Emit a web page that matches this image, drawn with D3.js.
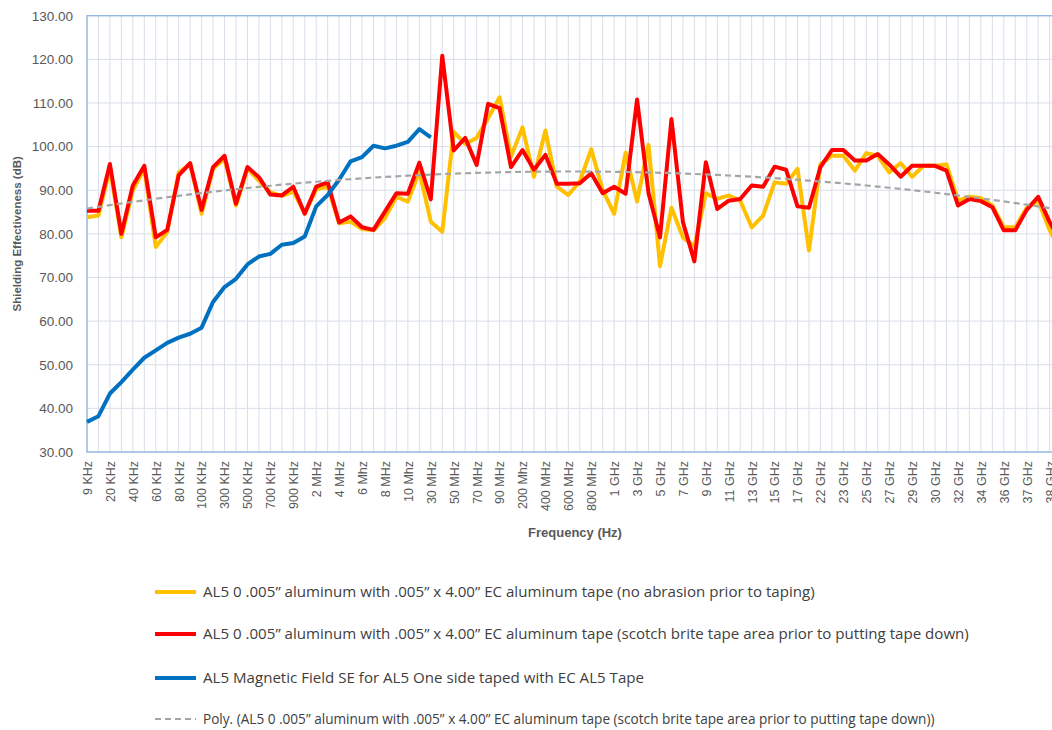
<!DOCTYPE html>
<html>
<head>
<meta charset="utf-8">
<script src="https://cdn.jsdelivr.net/npm/d3@7"></script>
<style>
  body { margin: 0; background: #fff; }
  svg text { font-family: "Liberation Sans", Arial, sans-serif; }
</style>
</head>
<body>
<div id="chart"></div>
<script>
const categories = [
  "9 KHz", "10 KHz", "20 KHz", "30 KHz", "40 KHz", "50 KHz", "60 KHz", "70 KHz", "80 KHz", "90 KHz",
  "100 KHz", "200 KHz", "300 KHz", "400 KHz", "500 KHz", "600 KHz", "700 KHz", "800 KHz", "900 KHz", "1 MHz",
  "2 MHz", "3 MHz", "4 MHz", "5 MHz", "6 Mhz", "7 Mhz", "8 MHz", "9 MHz", "10 Mhz", "20 MHz",
  "30 MHz", "40 MHz", "50 MHz", "60 MHz", "70 MHz", "80 MHz", "90 MHz", "100 MHz", "200 Mhz", "300 MHz",
  "400 MHz", "500 MHz", "600 MHz", "700 MHz", "800 MHz", "900 MHz", "1 GHz", "2 GHz", "3 GHz", "4 GHz",
  "5 GHz", "6 GHz", "7 GHz", "8 GHz", "9 GHz", "10 GHz", "11 GHz", "12 GHz", "13 GHz", "14 GHz",
  "15 GHz", "16 GHz", "17 GHz", "18 GHz", "22 GHz", "22.5 GHz", "23 GHz", "24 GHz", "25 GHz", "26 GHz",
  "27 GHz", "28 GHz", "29 GHz", "29.5 GHz", "30 GHz", "31 GHz", "32 GHz", "33 GHz", "34 GHz", "35 GHz",
  "36 GHz", "36.5 GHz", "37 GHz", "37.5 GHz", "38 GHz", "39 GHz"
];

// AL5 no abrasion (yellow)
const noAbrasion = [
  83.8, 84.2, 95.0, 79.2, 90.0, 94.9, 77.0, 80.4, 94.1, 96.0,
  84.6, 94.9, 97.2, 86.5, 94.9, 92.2, 89.5, 88.7, 89.7, 84.7,
  90.2, 90.8, 82.4, 82.8, 81.1, 80.8, 83.6, 88.5, 87.4, 94.3,
  82.8, 80.5, 103.4, 100.6, 102.0, 106.5, 111.3, 97.7, 104.4, 93.1,
  103.7, 90.8, 88.9, 92.0, 99.4, 90.0, 84.6, 98.6, 87.4, 100.4,
  72.6, 86.0, 79.2, 77.1, 89.3, 88.0, 88.8, 87.6, 81.5, 84.2,
  91.8, 91.5, 94.9, 76.2, 96.0, 97.9, 97.9, 94.5, 98.5, 97.9,
  94.1, 96.2, 93.1, 95.6, 95.6, 95.9, 87.6, 88.5, 88.2, 86.5,
  81.5, 81.5, 86.0, 87.6, 80.8, 76.0
];

// AL5 scotch brite (red)
const scotchBrite = [
  85.3, 85.3, 96.0, 80.0, 91.1, 95.6, 79.2, 80.9, 93.4, 96.2,
  85.5, 95.3, 97.9, 86.9, 95.3, 93.0, 89.0, 88.8, 90.8, 84.6,
  90.8, 91.8, 82.6, 84.0, 81.5, 80.9, 85.1, 89.3, 89.2, 96.3,
  87.9, 120.8, 99.1, 102.0, 95.8, 109.8, 108.8, 95.3, 99.2, 94.7,
  98.1, 91.5, 91.5, 91.6, 93.9, 89.3, 90.8, 89.2, 110.8, 89.3,
  79.2, 106.3, 82.7, 73.7, 96.4, 85.7, 87.6, 88.0, 91.1, 90.8,
  95.4, 94.7, 86.3, 86.0, 95.3, 99.2, 99.2, 96.8, 96.8, 98.3,
  95.9, 93.1, 95.6, 95.6, 95.6, 94.5, 86.5, 88.0, 87.5, 86.1,
  80.8, 80.8, 85.5, 88.5, 82.7, 78.0
];

// AL5 magnetic field (blue), 9 KHz .. 30 MHz
const magnetic = [
  36.9, 38.2, 43.4, 46.0, 48.9, 51.6, 53.3, 55.0, 56.2, 57.1,
  58.5, 64.4, 67.8, 69.7, 73.0, 74.8, 75.4, 77.5, 77.9, 79.4,
  86.3, 88.9, 92.4, 96.6, 97.6, 100.2, 99.6, 100.2, 101.1, 104.0,
  102.1
];

const yTicks = [30, 40, 50, 60, 70, 80, 90, 100, 110, 120, 130];

const legendLabels = [
  "AL5 0 .005\u201d aluminum with .005\u201d x 4.00\u201d EC aluminum tape (no abrasion prior to taping)",
  "AL5 0 .005\u201d aluminum with .005\u201d x 4.00\u201d EC aluminum tape (scotch brite tape area prior to putting tape down)",
  "AL5 Magnetic Field SE for AL5 One side taped with EC AL5 Tape",
  "Poly. (AL5 0 .005\u201d aluminum with .005\u201d x 4.00\u201d EC aluminum tape (scotch brite tape area prior to putting tape down))"
];

const width = 1052;
const height = 730;
const margin = { top: 15.7, left: 87, bottom: 452 };
const step = 11.46;

const svg = d3.select("#chart")
    .append("svg")
    .attr("width", width)
    .attr("height", height);

const x = d3.scalePoint()
    .domain(categories)
    .range([margin.left, margin.left + step * (categories.length - 1)]);

const y = d3.scaleLinear()
    .domain([30, 130])
    .range([margin.bottom, margin.top]);

const plotRight = x(categories[categories.length - 1]) + 4;

// gridlines
svg.append("g")
    .selectAll("line")
    .data(categories)
    .enter()
    .append("line")
    .attr("x1", d => x(d)).attr("x2", d => x(d))
    .attr("y1", margin.top).attr("y2", margin.bottom)
    .attr("stroke", "#d9dee8")
    .attr("stroke-width", 1);

svg.append("g")
    .selectAll("line")
    .data(yTicks)
    .enter()
    .append("line")
    .attr("x1", margin.left).attr("x2", plotRight)
    .attr("y1", d => y(d)).attr("y2", d => y(d))
    .attr("stroke", "#d9dee8")
    .attr("stroke-width", 1);

// plot border
svg.append("rect")
    .attr("x", margin.left)
    .attr("y", margin.top)
    .attr("width", plotRight - margin.left)
    .attr("height", margin.bottom - margin.top)
    .attr("fill", "none")
    .attr("stroke", "#8fb6e0")
    .attr("stroke-width", 1.3);

// y axis
const yAxis = svg.append("g")
    .attr("transform", `translate(${margin.left},0)`)
    .call(d3.axisLeft(y).tickValues(yTicks).tickFormat(d3.format(".2f")).tickSize(0).tickPadding(14));
yAxis.select(".domain").remove();
yAxis.selectAll("text")
    .attr("fill", "#595959")
    .style("font-size", "13.5px");

// x axis
const xAxis = svg.append("g")
    .attr("transform", `translate(0,${margin.bottom})`)
    .call(d3.axisBottom(x).tickValues(categories.filter((d, i) => i % 2 === 0)).tickSize(0));
xAxis.select(".domain").remove();
xAxis.selectAll("text")
    .attr("transform", "rotate(-90)")
    .attr("x", -9)
    .attr("y", 0)
    .attr("dy", "0.35em")
    .style("text-anchor", "end")
    .attr("fill", "#595959")
    .style("font-size", "12.5px");

// axis titles
svg.append("text")
    .attr("transform", `translate(21,${(margin.top + margin.bottom) / 2}) rotate(-90)`)
    .attr("text-anchor", "middle")
    .attr("fill", "#595959")
    .style("font-size", "11.5px")
    .style("font-weight", "bold")
    .text("Shielding Effectiveness (dB)");

svg.append("text")
    .attr("x", 575)
    .attr("y", 537)
    .attr("text-anchor", "middle")
    .attr("fill", "#595959")
    .style("font-size", "13px")
    .style("font-weight", "bold")
    .text("Frequency (Hz)");

// polynomial (order 2) trendline of the red series, like Excel
function polyFit(values) {
    let s = [0, 0, 0, 0, 0], t = [0, 0, 0];
    values.forEach((v, i) => {
        const xi = i + 1;
        for (let k = 0; k < 5; k++) s[k] += Math.pow(xi, k);
        for (let k = 0; k < 3; k++) t[k] += v * Math.pow(xi, k);
    });
    const m = [[s[0], s[1], s[2], t[0]], [s[1], s[2], s[3], t[1]], [s[2], s[3], s[4], t[2]]];
    for (let c = 0; c < 3; c++) {
        for (let r = c + 1; r < 3; r++) {
            const f = m[r][c] / m[c][c];
            for (let k = c; k < 4; k++) m[r][k] -= f * m[c][k];
        }
    }
    const b = [0, 0, 0];
    for (let r = 2; r >= 0; r--) {
        let sum = m[r][3];
        for (let k = r + 1; k < 3; k++) sum -= m[r][k] * b[k];
        b[r] = sum / m[r][r];
    }
    return xi => b[0] + b[1] * xi + b[2] * xi * xi;
}

const trendFn = polyFit(scotchBrite);
const trend = categories.map((c, i) => trendFn(i + 1));

const line = d3.line()
    .x((d, i) => x(categories[i]))
    .y(d => y(d));

const series = [
    { values: noAbrasion, color: "#ffc000", width: 4, dash: null, font: 15.1 },
    { values: scotchBrite, color: "#ff0000", width: 4, dash: null, font: 15.1 },
    { values: magnetic, color: "#0070c0", width: 4, dash: null, font: 15.1 },
    { values: trend, color: "#a5a5a5", width: 2.2, dash: "6,4", font: 13.6 }
];

series.forEach(s => {
    svg.append("path")
        .datum(s.values)
        .attr("fill", "none")
        .attr("stroke", s.color)
        .attr("stroke-width", s.width)
        .attr("stroke-linejoin", "round")
        .attr("stroke-dasharray", s.dash)
        .attr("d", line);
});

// legend
const legendY = [592, 634, 678, 719];
const legend = svg.append("g");
series.forEach((s, i) => {
    legend.append("line")
        .attr("x1", 155).attr("x2", 196)
        .attr("y1", legendY[i]).attr("y2", legendY[i])
        .attr("stroke", s.color)
        .attr("stroke-width", s.width)
        .attr("stroke-dasharray", s.dash);
    legend.append("text")
        .attr("x", 203)
        .attr("y", legendY[i])
        .attr("dy", "0.35em")
        .attr("fill", "#404040")
        .style("font-family", "'Open Sans', sans-serif")
        .style("font-size", s.font + "px")
        .text(legendLabels[i]);
});
</script>
</body>
</html>
